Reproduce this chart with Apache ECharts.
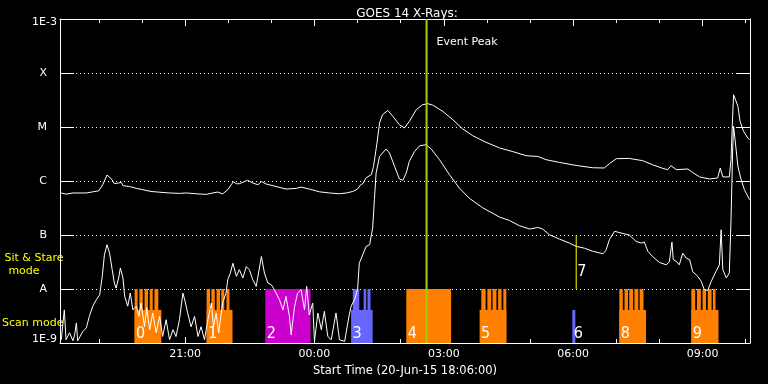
<!DOCTYPE html>
<html><head><meta charset="utf-8">
<script src="https://cdn.jsdelivr.net/npm/echarts@6/dist/echarts.min.js"></script>
<style>html,body{margin:0;padding:0;background:#000}#c{width:768px;height:384px}</style>
</head><body><div id="c"></div>
<script>
// ---------- DATA (hours since 00:00 on 20-Jun-15; flux in W/m^2) ----------
const longTime = [18.13,18.24,18.40,18.71,18.86,19.00,19.09,19.19,19.29,19.36,19.46,19.52,19.56,19.71,19.87,20.02,20.21,20.41,20.64,20.87,21.03,21.26,21.49,21.64,21.76,21.87,21.99,22.07,22.12,22.19,22.26,22.45,22.57,22.69,22.77,22.88,23.11,23.34,23.58,23.69,23.88,24.12,24.35,24.58,24.74,24.89,25.00,25.07,25.12,25.20,25.32,25.37,25.45,25.51,25.58,25.70,25.82,25.97,26.09,26.20,26.36,26.51,26.63,26.74,26.98,27.21,27.44,27.67,27.98,28.29,28.60,28.91,29.18,29.37,29.68,30.07,30.45,30.72,30.84,31.00,31.30,31.61,31.84,32.08,32.19,32.27,32.39,32.66,32.77,32.93,33.16,33.35,33.41,33.47,33.62,33.66,33.70,33.72,33.76,33.82,33.87,33.95,34.05,34.09];
const longFlux = [6.0e-7,5.7e-7,6.0e-7,6.0e-7,6.3e-7,6.6e-7,8.5e-7,1.29e-6,1.10e-6,8.9e-7,9.2e-7,9.4e-7,8.2e-7,7.9e-7,7.3e-7,6.9e-7,6.4e-7,6.2e-7,6.0e-7,5.9e-7,6.0e-7,5.8e-7,5.65e-7,6.0e-7,6.25e-7,5.75e-7,6.9e-7,8.5e-7,9.7e-7,8.9e-7,8.9e-7,1.03e-6,9.2e-7,8.5e-7,9.8e-7,8.8e-7,7.9e-7,7.1e-7,7.3e-7,7.7e-7,7.1e-7,6.3e-7,6.0e-7,5.8e-7,6.0e-7,6.4e-7,7.1e-7,8.5e-7,8.9e-7,1.15e-6,1.31e-6,1.86e-6,5.05e-6,1.19e-5,1.69e-5,2.03e-5,1.57e-5,1.10e-5,9.6e-6,1.27e-5,2.09e-5,2.59e-5,2.70e-5,2.55e-5,1.94e-5,1.36e-5,9.2e-6,6.9e-6,5.2e-6,4.1e-6,3.5e-6,2.94e-6,2.85e-6,2.48e-6,2.21e-6,1.94e-6,1.76e-6,1.74e-6,2.09e-6,2.59e-6,2.62e-6,2.38e-6,2.00e-6,1.71e-6,1.62e-6,1.92e-6,1.62e-6,1.67e-6,1.44e-6,1.19e-6,1.09e-6,1.14e-6,1.74e-6,1.19e-6,1.19e-6,2.48e-6,1.82e-5,3.96e-5,3.69e-5,2.41e-5,1.27e-5,8.3e-6,6.25e-6,5.8e-6];

const shortTime = [18.13,18.16,18.20,18.24,18.32,18.40,18.44,18.48,18.51,18.63,18.71,18.78,18.86,18.94,19.02,19.08,19.13,19.19,19.25,19.31,19.36,19.40,19.46,19.50,19.56,19.60,19.67,19.73,19.79,19.87,19.93,19.98,20.06,20.11,20.18,20.25,20.33,20.41,20.48,20.56,20.64,20.72,20.79,20.87,20.95,21.01,21.06,21.14,21.22,21.30,21.37,21.45,21.53,21.61,21.66,21.72,21.78,21.87,21.95,21.99,22.05,22.11,22.19,22.26,22.34,22.42,22.49,22.57,22.65,22.77,22.84,22.92,23.00,23.07,23.19,23.27,23.34,23.42,23.46,23.54,23.61,23.69,23.77,23.82,23.88,23.96,24.00,24.08,24.16,24.23,24.31,24.39,24.50,24.58,24.70,24.80,24.85,24.93,25.00,25.04,25.12,25.20,25.28,25.35,25.39,25.43,25.51,25.58,25.66,25.74,25.86,25.97,26.05,26.13,26.20,26.32,26.44,26.59,26.71,26.90,27.13,27.36,27.59,27.90,28.29,28.52,28.75,28.99,29.18,29.29,29.45,29.68,29.91,30.07,30.26,30.45,30.69,30.76,30.84,30.96,31.11,31.30,31.46,31.58,31.65,31.73,31.84,32.00,32.16,32.23,32.29,32.32,32.40,32.46,32.54,32.62,32.70,32.77,32.89,32.97,33.04,33.12,33.20,33.31,33.39,33.43,33.47,33.55,33.62,33.66,33.70,33.72,33.82,33.89,33.97,34.09];
const shortFlux = [1.15e-9,1.25e-9,4.1e-9,1.15e-9,1.55e-9,1.10e-9,1.42e-9,2.35e-9,1.10e-9,1.64e-9,1.90e-9,3.1e-9,4.8e-9,6.3e-9,7.8e-9,1.71e-8,4.3e-8,6.6e-8,4.6e-8,2.28e-8,1.29e-8,1.04e-8,1.60e-8,2.45e-8,1.60e-8,7.3e-9,4.8e-9,8.4e-9,4.1e-9,4.8e-9,3.1e-9,5.5e-9,2.0e-9,4.5e-9,1.76e-9,3.6e-9,1.55e-9,3.1e-9,1.32e-9,2.7e-9,1.15e-9,1.76e-9,1.32e-9,2.7e-9,8.4e-9,5.5e-9,3.6e-9,2.0e-9,3.1e-9,1.32e-9,2.0e-9,1.15e-9,2.7e-9,5.5e-9,2.0e-9,3.6e-9,1.55e-9,5.5e-9,8.4e-9,1.49e-8,1.98e-8,3.0e-8,1.71e-8,2.28e-8,1.60e-8,2.6e-8,2.28e-8,1.49e-8,1.12e-8,4.0e-8,1.98e-8,1.29e-8,1.20e-8,9.7e-9,6.3e-9,4.1e-9,7.3e-9,3.1e-9,1.42e-9,4.8e-9,8.4e-9,9.7e-9,4.1e-9,1.12e-8,3.3e-9,5.5e-9,1.07e-9,3.6e-9,1.76e-9,3.85e-9,1.32e-9,1.15e-9,3.6e-9,1.15e-9,1.07e-9,3.1e-9,4.8e-9,6.3e-9,9.7e-9,3.0e-8,4.3e-8,6.15e-8,6.6e-8,1.35e-7,4.5e-7,1.41e-6,2.85e-6,3.3e-6,3.9e-6,3.3e-6,1.86e-6,1.09e-6,1.03e-6,1.41e-6,2.31e-6,3.5e-6,4.5e-6,4.7e-6,3.9e-6,2.48e-6,1.31e-6,7.4e-7,4.8e-7,3.2e-7,2.15e-7,1.86e-7,1.49e-7,1.29e-7,1.38e-7,1.29e-7,1.01e-7,8.4e-8,7.1e-8,6.15e-8,5.7e-8,5.0e-8,4.5e-8,5.2e-8,8.2e-8,1.17e-7,1.09e-7,1.00e-7,7.6e-8,7.1e-8,7.4e-8,5.0e-8,4.0e-8,3.1e-8,2.8e-8,3.2e-8,7.4e-8,3.5e-8,3.2e-8,2.8e-8,4.6e-8,3.75e-8,3.5e-8,2.1e-8,1.71e-8,1.38e-8,9.7e-9,9.4e-9,1.38e-8,2.1e-8,2.8e-8,1.25e-7,2.28e-8,1.60e-8,1.98e-8,1.92e-7,4.4e-6,1.03e-5,1.86e-6,1.09e-6,6.9e-7,4.5e-7];

// observing-mode blocks
const blockNames   = ['0','1','2','3','4','5','6','8','9'];
const blockStart   = [19.83,21.50,22.86,24.85,26.13,27.83,29.98,31.07,32.74];
const blockProgram = ['a','a','b','c','a','a','c','a','a'];
// [start, end, blockIndex]
const scanSegments = [[19.83,20.45,0],[21.50,22.10,1],[24.85,25.35,3],[27.83,28.45,5],[29.98,30.05,6],[31.07,31.69,7],[32.74,33.37,8]];
const stareSegments = [
  [19.83,19.90,0],[19.94,20.02,0],[20.06,20.14,0],[20.18,20.25,0],[20.29,20.38,0],
  [21.50,21.58,1],[21.61,21.69,1],[21.73,21.81,1],[21.84,21.91,1],[21.96,22.03,1],
  [22.86,23.91,2],
  [24.89,25.04,3],[25.14,25.20,3],[25.23,25.30,3],
  [26.13,27.17,4],
  [27.87,27.97,5],[28.01,28.10,5],[28.13,28.22,5],[28.26,28.34,5],[28.38,28.45,5],
  [31.07,31.15,7],[31.19,31.27,7],[31.30,31.39,7],[31.42,31.51,7],[31.54,31.63,7],
  [32.74,32.83,8],[32.87,32.96,8],[33.00,33.08,8],[33.12,33.21,8],[33.24,33.30,8]
];
const floorLevel = 1e-9, scanLevel = 4.1e-9, stareLevel = 1e-8;
const marker7 = {time: 30.07, low: 1e-8, high: 1e-7, name: '7'};
const eventPeakTime = 26.60;

const xMin = 18.1, xMax = 34.1;
const majorHours = [21,24,27,30,33];
const minorHours = [19,20,22,23,25,26,28,29,31,32,34];
const decadeNames = ['1E-9','A','B','C','M','X','1E-3'];

// ---------- STYLE ----------
const FONT = '"DejaVu Sans", sans-serif';
const NUMFONT = '"Liberation Sans Narrow", "DejaVu Sans Condensed", "DejaVu Sans", sans-serif';
const programColors = {a:'#ff8000', b:'#cc00cc', c:'#6666ff'};
const WHITE = '#ffffff';

function hourLabel(v){ const h = ((Math.round(v) % 24) + 24) % 24; return (h < 10 ? '0' : '') + h + ':00'; }
function decadeLabel(v){
  const e = Math.round(Math.log10(v));
  const s = decadeNames[e + 9];
  if (s === undefined) return '';
  if (e === -3) return '{t|' + s + '}';
  if (e === -9) return '{b|' + s + '}';
  return '{l|' + s + '}';
}

const modeRows = scanSegments.map(s => [s[0], s[1], floorLevel, scanLevel, s[2]])
  .concat(stareSegments.map(s => [s[0], s[1], floorLevel, stareLevel, s[2]]));

const chart = echarts.init(document.getElementById('c'), null, {renderer:'canvas'});
const baseX = {type:'value', min:xMin, max:xMax, gridIndex:0, splitLine:{show:false}};
const lblStyle = {color:WHITE, fontSize:11, fontFamily:FONT};

chart.setOption({
  backgroundColor:'#000',
  animation:false,
  title:{text:'GOES 14 X-Rays:', left:402, textAlign:'center', top:3, textStyle:{color:WHITE, fontSize:12, fontWeight:'normal', fontFamily:FONT}},
  grid:{left:60, right:18, top:19, bottom:41, containLabel:false},
  xAxis:[
    Object.assign({}, baseX, {position:'bottom',
      axisLine:{lineStyle:{color:WHITE, width:1}},
      axisTick:{inside:true, length:6, customValues:majorHours, lineStyle:{color:WHITE}},
      axisLabel:Object.assign({customValues:majorHours, formatter:hourLabel, margin:6}, lblStyle),
      name:'Start Time (20-Jun-15 18:06:00)', nameLocation:'middle', nameGap:18,
      nameTextStyle:{color:WHITE, fontSize:11.5, fontFamily:FONT}}),
    Object.assign({}, baseX, {position:'bottom', axisLine:{show:false},
      axisTick:{inside:true, length:4, customValues:minorHours, lineStyle:{color:WHITE}},
      axisLabel:{show:false}}),
    Object.assign({}, baseX, {position:'top',
      axisLine:{lineStyle:{color:WHITE, width:1}},
      axisTick:{inside:true, length:7, customValues:majorHours, lineStyle:{color:WHITE}},
      axisLabel:{show:false}}),
    Object.assign({}, baseX, {position:'top', axisLine:{show:false},
      axisTick:{inside:true, length:4, customValues:minorHours, lineStyle:{color:WHITE}},
      axisLabel:{show:false}})
  ],
  yAxis:[
    {type:'log', logBase:10, min:1e-9, max:1e-3, position:'left',
     axisLine:{show:true, lineStyle:{color:WHITE, width:1}},
     axisTick:{show:true, inside:true, length:14, lineStyle:{color:WHITE}},
     minorTick:{show:false},
     splitLine:{show:true, lineStyle:{color:WHITE, width:1, type:[1,3]}},
     axisLabel:{formatter:decadeLabel, margin:3, color:WHITE, fontSize:11, fontFamily:FONT,
       rich:{
         t:{color:WHITE, fontSize:11, fontFamily:FONT, padding:[7,0,0,0]},
         b:{color:WHITE, fontSize:11, fontFamily:FONT, padding:[0,0,7,0]},
         l:{color:WHITE, fontSize:11, fontFamily:FONT, padding:[0,10,0,0]}
       }}},
    {type:'log', logBase:10, min:1e-9, max:1e-3, position:'right',
     axisLine:{show:true, lineStyle:{color:WHITE, width:1}},
     axisTick:{show:true, inside:true, length:14, lineStyle:{color:WHITE}},
     minorTick:{show:false}, splitLine:{show:false}, axisLabel:{show:false}}
  ],
  graphic:[
    {type:'text', x:34, y:258.5, style:{text:'Sit & Stare', fill:'#ffff00', fontSize:11, fontFamily:FONT, align:'center', verticalAlign:'middle'}},
    {type:'text', x:24, y:271, style:{text:'mode', fill:'#ffff00', fontSize:11, fontFamily:FONT, align:'center', verticalAlign:'middle'}},
    {type:'text', x:2, y:323.5, style:{text:'Scan mode', fill:'#ffff00', fontSize:11, fontFamily:FONT, align:'left', verticalAlign:'middle'}}
  ],
  series:[
    {type:'custom', name:'modes', xAxisIndex:0, yAxisIndex:0, z:1, silent:true,
     encode:{x:[0,1], y:[2,3]}, data:modeRows,
     renderItem:function(params, api){
       const p0 = api.coord([api.value(0), api.value(3)]);
       const p1 = api.coord([api.value(1), api.value(2)]);
       return {type:'rect', shape:{x:p0[0], y:p0[1], width:p1[0]-p0[0], height:p1[1]-p0[1]},
               style:{fill:programColors[blockProgram[api.value(4)]]}};
     }},
    {type:'line', name:'long', xAxisIndex:0, yAxisIndex:0, z:3, silent:true, showSymbol:false, symbol:'none',
     data:longTime.map((t,i)=>[t,longFlux[i]]), lineStyle:{color:WHITE, width:1}},
    {type:'line', name:'short', xAxisIndex:0, yAxisIndex:0, z:3, silent:true, showSymbol:false, symbol:'none',
     data:shortTime.map((t,i)=>[t,shortFlux[i]]), lineStyle:{color:WHITE, width:1}},
    {type:'custom', name:'labels', xAxisIndex:0, yAxisIndex:0, z:4, silent:true,
     encode:{x:0}, data:blockStart.map((t,i)=>[t,i]),
     renderItem:function(params, api){
       const p = api.coord([api.value(0), floorLevel]);
       return {type:'text', x:p[0]+1.5, y:p[1]-1,
               style:{text:blockNames[api.value(1)], fill:WHITE, fontSize:16, fontFamily:NUMFONT, align:'left', verticalAlign:'bottom'}};
     }},
    {type:'custom', name:'marker7', xAxisIndex:0, yAxisIndex:0, z:5, silent:true,
     encode:{x:0, y:[1,2]}, data:[[marker7.time, marker7.low, marker7.high]],
     renderItem:function(params, api){
       const a = api.coord([api.value(0), api.value(1)]);
       const b = api.coord([api.value(0), api.value(2)]);
       return {type:'group', children:[
         {type:'line', shape:{x1:a[0], y1:a[1], x2:b[0], y2:b[1]}, style:{stroke:'#ffff00', lineWidth:1}},
         {type:'text', x:a[0]+1, y:a[1]-17, style:{text:marker7.name, fill:WHITE, fontSize:16, fontFamily:NUMFONT, align:'left', verticalAlign:'middle'}}
       ]};
     }},
    {type:'custom', name:'eventPeak', xAxisIndex:0, yAxisIndex:0, z:6, silent:true,
     encode:{x:0}, data:[[eventPeakTime]],
     renderItem:function(params, api){
       const a = api.coord([api.value(0), 1e-9]);
       const b = api.coord([api.value(0), 1e-3]);
       return {type:'group', children:[
         {type:'line', shape:{x1:a[0], y1:a[1], x2:b[0], y2:b[1]}, style:{stroke:'#a0d000', lineWidth:2}},
         {type:'text', x:b[0]+10, y:b[1]+23.5, style:{text:'Event Peak', fill:WHITE, fontSize:11, fontFamily:FONT, align:'left', verticalAlign:'middle'}}
       ]};
     }}
  ]
});
</script>
</body></html>
